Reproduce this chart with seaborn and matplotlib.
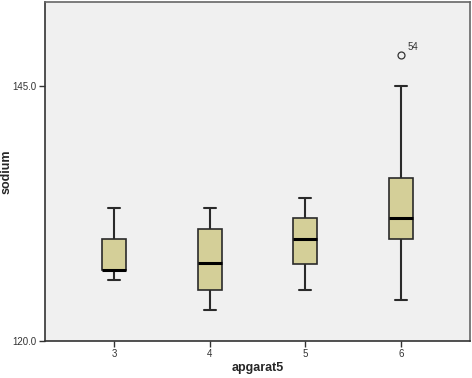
import matplotlib
matplotlib.use("Agg")
import matplotlib.pyplot as plt
import seaborn as sns
import pandas as pd

# Data (values per apgarat5 group)
groups = ["3", "4", "5", "6"]
sodium_3 = [126, 127, 127, 130, 133]
sodium_4 = [123, 125, 127.6, 131, 133]
sodium_5 = [125, 127.5, 130, 132, 134]
sodium_6 = [124, 127, 130, 131, 132, 134, 136, 145, 148]
outlier_label = "54"
yticks = [120.0, 145.0]

df = pd.DataFrame({
    "apgarat5": (["3"] * len(sodium_3) + ["4"] * len(sodium_4)
                 + ["5"] * len(sodium_5) + ["6"] * len(sodium_6)),
    "sodium": sodium_3 + sodium_4 + sodium_5 + sodium_6,
})

sns.set_style("white")
plt.rcParams["font.family"] = ["Liberation Sans", "DejaVu Sans"]

fig = plt.figure(figsize=(4.72, 3.78), dpi=100)
ax = fig.add_axes([45 / 472, 1 - 341 / 378, 425 / 472, 339 / 378])
ax.set_facecolor("#F0F0F0")

sns.boxplot(
    data=df, x="apgarat5", y="sodium", order=groups, ax=ax,
    color="#D4CF98", width=0.25, saturation=1,
    linecolor="#2a2a2a", linewidth=1.2,
    medianprops=dict(color="black", linewidth=2.2),
    whiskerprops=dict(color="#2a2a2a", linewidth=1.5),
    capprops=dict(color="#2a2a2a", linewidth=1.5),
    flierprops=dict(marker="o", markersize=5, markerfacecolor="none",
                    markeredgecolor="#333333", markeredgewidth=0.9),
)

# label the outlier
ax.annotate(outlier_label, xy=(3, max(sodium_6)), xytext=(5, 4),
            textcoords="offset points", fontsize=7, color="#333333")

ax.set_ylim(120, 153.2)
ax.set_xlim(-0.72, 3.72)
ax.set_yticks(yticks)
ax.set_yticklabels([f"{v:.1f}" for v in yticks], fontsize=7, color="#333333")
ax.set_xticklabels(groups, fontsize=7, color="#333333")
ax.tick_params(axis="both", direction="out", length=4, width=1, color="#333333",
               left=True, bottom=True, pad=2)

for side, sp in ax.spines.items():
    sp.set_visible(True)
    sp.set_color("#666666")
    sp.set_linewidth(1.2)
ax.spines["left"].set_color("#333333")
ax.spines["bottom"].set_color("#333333")

ax.set_xlabel("apgarat5", fontsize=9, fontweight="bold")
ax.set_ylabel("sodium", fontsize=9, fontweight="bold")
ax.xaxis.set_label_coords(0.5, -0.063)
ax.yaxis.set_label_coords(-0.076, 0.5)

fig.savefig("out.png", dpi=100, facecolor="white")
